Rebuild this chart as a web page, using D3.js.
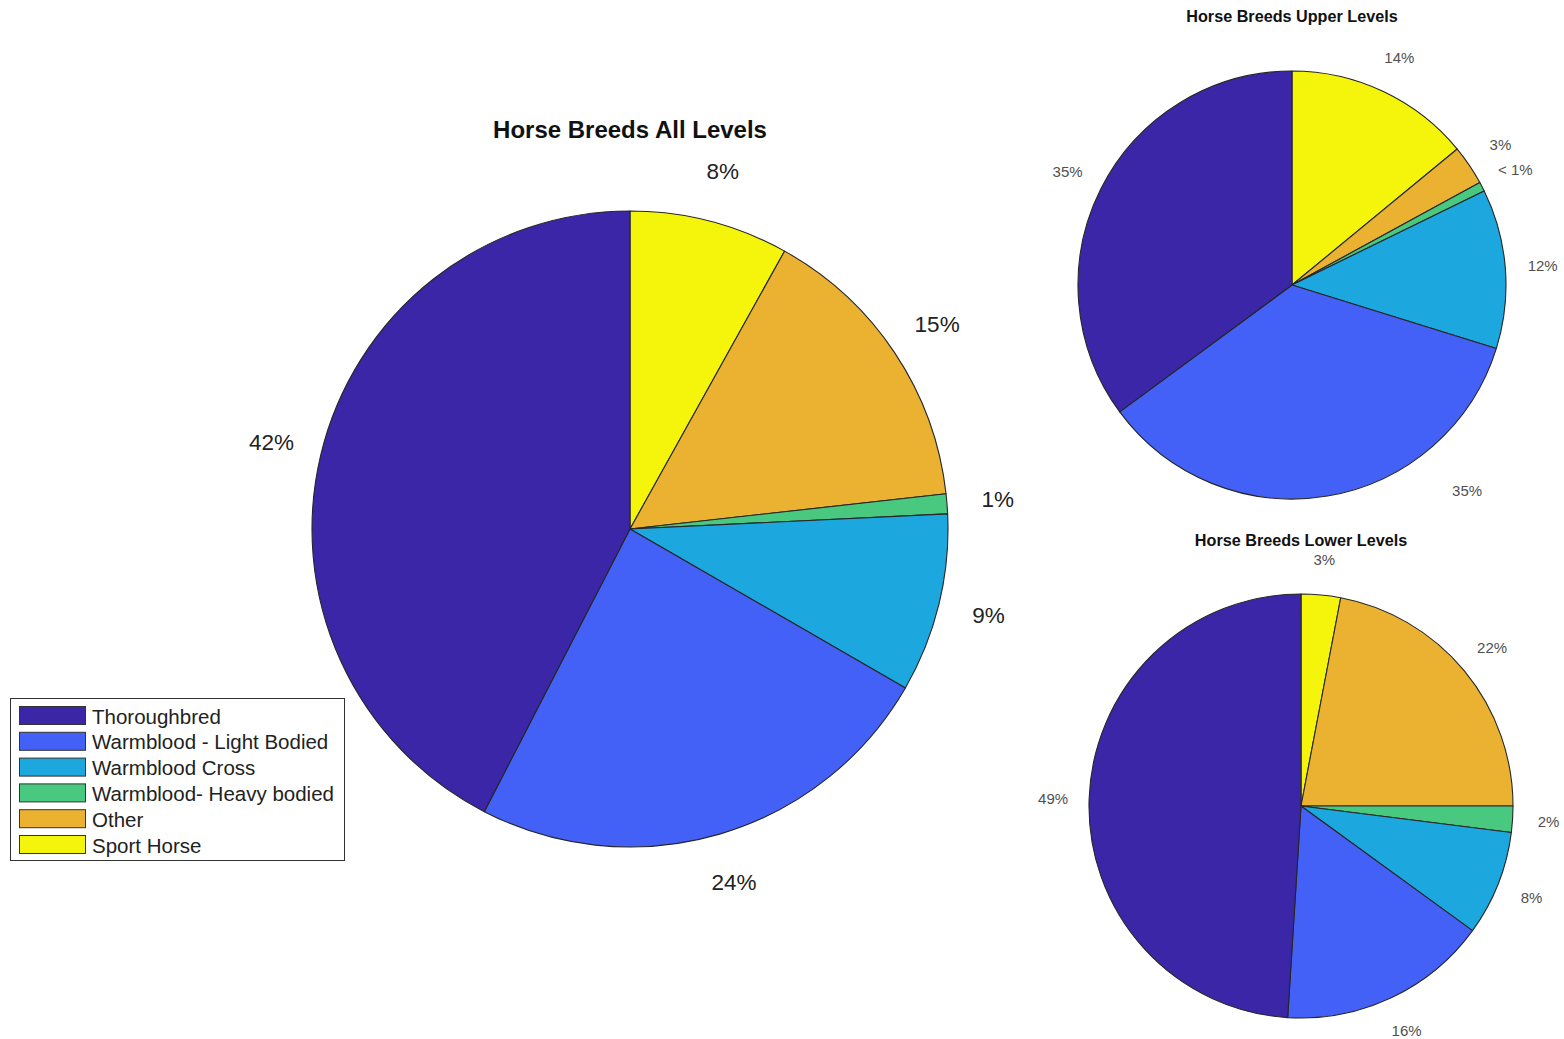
<!DOCTYPE html>
<html>
<head>
<meta charset="utf-8">
<script src="https://cdn.jsdelivr.net/npm/d3@7"></script>
<style>
  html, body { margin: 0; padding: 0; background: #fff; }
  svg { display: block; font-family: "Liberation Sans", Arial, Helvetica, sans-serif; }
</style>
</head>
<body>
<svg id="chart" width="1564" height="1039"></svg>
<script>
// Breed categories, in legend order
const categories = [
  "Thoroughbred",
  "Warmblood - Light Bodied",
  "Warmblood Cross",
  "Warmblood- Heavy bodied",
  "Other",
  "Sport Horse"
];
const colors = ["#3a26a7", "#4361f6", "#1ca8de", "#48c97f", "#ebb232", "#f5f50c"];

// Percent shares per category (same order as categories)
const allLevels   = [42, 24, 9, 1, 15, 8];
const upperLevels = [35, 35, 12, 0.7, 3, 14];
const lowerLevels = [49, 16, 8, 2, 22, 3];

const chartTitles = ["Horse Breeds All Levels", "Horse Breeds Upper Levels", "Horse Breeds Lower Levels"];

const svg = d3.select("#chart");

const fmt = v => v < 1 ? "< 1%" : Math.round(v) + "%";

// Slices run clockwise from 12 o'clock, starting with the last category
const pie = d3.pie().sort(null).value(d => d.value).startAngle(0).endAngle(2 * Math.PI);

function drawPie(values, opts) {
  const data = categories.map((c, i) => ({ name: c, value: values[i], color: colors[i] })).reverse();
  const arcs = pie(data);
  const g = svg.append("g").attr("transform", `translate(${opts.cx},${opts.cy})`);
  const arc = d3.arc().innerRadius(0).outerRadius(opts.r);

  g.selectAll("path.slice").data(arcs).join("path")
    .attr("class", "slice")
    .attr("d", arc)
    .attr("fill", d => d.data.color)
    .attr("stroke", "#262626")
    .attr("stroke-width", 1.1)
    .attr("stroke-linejoin", "round");

  g.selectAll("text.pct").data(arcs).join("text")
    .attr("class", "pct")
    .attr("transform", d => {
      const o = (opts.labelShift && opts.labelShift[d.data.name]) || {};
      const a = o.angle !== undefined ? o.angle * Math.PI / 180 : (d.startAngle + d.endAngle) / 2;
      const rr = opts.r * (o.k || opts.labelK);
      return `translate(${rr * Math.sin(a)},${-rr * Math.cos(a)})`;
    })
    .attr("text-anchor", "middle")
    .attr("dominant-baseline", "central")
    .attr("font-size", opts.labelSize)
    .attr("fill", opts.labelColor)
    .text(d => fmt(d.data.value));

  svg.append("text")
    .attr("x", opts.cx).attr("y", opts.titleY)
    .attr("text-anchor", "middle")
    .attr("dominant-baseline", "central")
    .attr("font-weight", "bold")
    .attr("font-size", opts.titleSize)
    .attr("fill", "#111")
    .text(opts.title);
}

drawPie(allLevels, {
  cx: 630, cy: 529, r: 318, labelK: 1.16, labelSize: 22.5, labelColor: "#222",
  title: chartTitles[0], titleY: 129, titleSize: 24
});

drawPie(upperLevels, {
  cx: 1292, cy: 285, r: 214, labelK: 1.175, labelSize: 15, labelColor: "#505050",
  title: chartTitles[1], titleY: 16, titleSize: 16.2,
  // light-bodied share label sits out at the lower right of the disc
  labelShift: { "Warmblood - Light Bodied": { angle: 139.5, k: 1.26 } }
});

drawPie(lowerLevels, {
  cx: 1301, cy: 806, r: 212, labelK: 1.17, labelSize: 15, labelColor: "#505050",
  title: chartTitles[2], titleY: 540, titleSize: 16.2
});

// Legend
const legend = svg.append("g").attr("transform", "translate(10,698)");
legend.append("rect")
  .attr("x", 0.5).attr("y", 0.5).attr("width", 334).attr("height", 162)
  .attr("fill", "#fff").attr("stroke", "#333").attr("stroke-width", 1);
const rowY = d3.scalePoint().domain(categories).range([17, 146]);
const rows = legend.selectAll("g.row").data(categories).join("g")
  .attr("class", "row")
  .attr("transform", d => `translate(0,${rowY(d)})`);
rows.append("rect")
  .attr("x", 9.5).attr("y", -8.5).attr("width", 66).attr("height", 18)
  .attr("fill", (d, i) => colors[i])
  .attr("stroke", "#333").attr("stroke-width", 1);
rows.append("text")
  .attr("x", 82).attr("y", 1)
  .attr("dominant-baseline", "central")
  .attr("font-size", 20.5)
  .attr("fill", "#222")
  .text(d => d);
</script>
</body>
</html>
